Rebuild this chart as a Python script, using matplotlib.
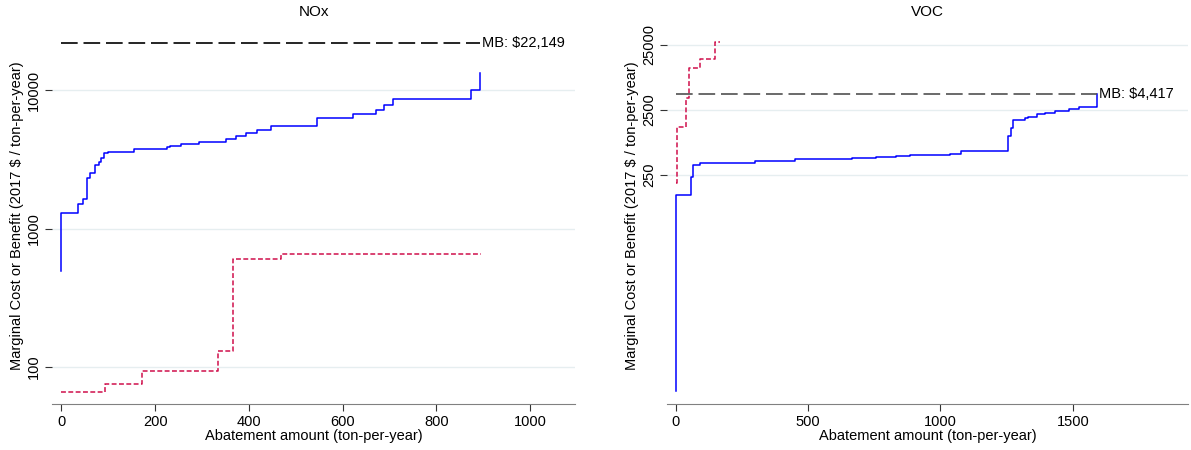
import matplotlib
matplotlib.use("Agg")
import matplotlib.pyplot as plt

plt.rcParams['font.family'] = ['Liberation Sans', 'DejaVu Sans']
plt.rcParams['font.size'] = 10.5

# NOx panel: marginal cost curves (step functions)
nox_blue_x = [0, 0, 36, 46, 55, 61, 72, 81, 84, 91.5, 99, 155, 225, 232, 256, 293, 351, 373,
              394, 417, 448, 546, 622, 672, 689, 708, 874, 893]
nox_blue_y = [490, 1290, 1500, 1630, 2325, 2530, 2880, 3025, 3255, 3500, 3580, 3790, 3870, 3940,
              4120, 4260, 4435, 4640, 4875, 5190, 5550, 6280, 6710, 7220, 7860, 8690, 10110, 13240]
nox_red_x = [0, 93, 172, 334.5, 365.6, 468, 895.5]
nox_red_y = [66, 75.5, 93.5, 131, 603, 656, 656]
nox_mb = 22149
nox_ticks = [100, 1000, 10000]
nox_xticks = [0, 200, 400, 600, 800, 1000]

# VOC panel
voc_blue_x = [0, 0, 59, 65, 91, 298, 323, 450, 514, 668, 757, 834, 885, 1038, 1077, 1256, 1265,
              1275, 1319, 1332, 1364, 1396, 1434, 1485, 1524, 1590]
voc_blue_y = [0.118, 125, 236, 357, 386, 405, 415, 437, 446, 464, 480, 498, 510, 529, 575, 1000,
              1312, 1750, 1880, 1950, 2170, 2250, 2450, 2630, 2760, 2860]
voc_blue_end = 4400
voc_red_x = [1, 6, 39, 52, 93, 150, 167]
voc_red_y = [190, 1380, 3780, 10970, 15290, 27570, 27570]
voc_mb = 4417
voc_ticks = [250, 2500, 25000]
voc_xticks = [0, 500, 1000, 1500]

fig = plt.figure(figsize=(11.91, 4.5), dpi=100)
ax1 = fig.add_axes([52/1191, 46/450, 523/1191, 376/450])
ax2 = fig.add_axes([667/1191, 46/450, 521/1191, 376/450])

def style(ax, yt, xt, title):
    ax.set_yscale('log')
    ax.set_yticks(yt)
    ax.set_yticklabels([str(v) for v in yt], rotation=90, va='center')
    ax.minorticks_off()
    ax.set_xticks(xt)
    for s in ['top', 'right', 'left']:
        ax.spines[s].set_visible(False)
    ax.spines['bottom'].set_color('#808080')
    ax.tick_params(axis='both', length=5, width=0.8, color='#333333', labelsize=10.5, pad=3)
    ax.grid(axis='y', color='#e6eef0', lw=1)
    ax.set_axisbelow(True)
    ax.set_title(title, fontsize=11, pad=9)
    ax.set_xlabel('Abatement amount (ton-per-year)', labelpad=0)
    ax.set_ylabel('Marginal Cost or Benefit (2017 $ / ton-per-year)', labelpad=2)

# NOx
ax1.step(nox_blue_x, nox_blue_y, where='post', color='#0000ff', lw=1.1)
ax1.step(nox_red_x, nox_red_y, where='post', color='#d0104c', lw=1.1, dashes=(3.2, 1.6))
ax1.plot([0, nox_blue_x[-1]], [nox_mb, nox_mb], color='black', lw=1.2, dashes=(10, 3.5))
ax1.text(nox_blue_x[-1] + 4, nox_mb, 'MB: $22,149', va='center', ha='left')
ax1.set_xlim(-20, 1096)
ax1.set_ylim(54, 28200)
style(ax1, nox_ticks, nox_xticks, 'NOx')

# VOC
ax2.step(voc_blue_x + [voc_blue_x[-1]], voc_blue_y + [voc_blue_end], where='post',
         color='#0000ff', lw=1.1)
ax2.step(voc_red_x, voc_red_y, where='post', color='#d0104c', lw=1.1, dashes=(3.2, 1.6))
ax2.plot([0, voc_blue_x[-1]], [voc_mb, voc_mb], color='#505050', lw=1.2, dashes=(10, 3.5))
ax2.text(voc_blue_x[-1] + 8, voc_mb, 'MB: $4,417', va='center', ha='left')
ax2.set_xlim(-32.5, 1935)
ax2.set_ylim(0.075, 45600)
style(ax2, voc_ticks, voc_xticks, 'VOC')

fig.savefig('out.png', dpi=100)
